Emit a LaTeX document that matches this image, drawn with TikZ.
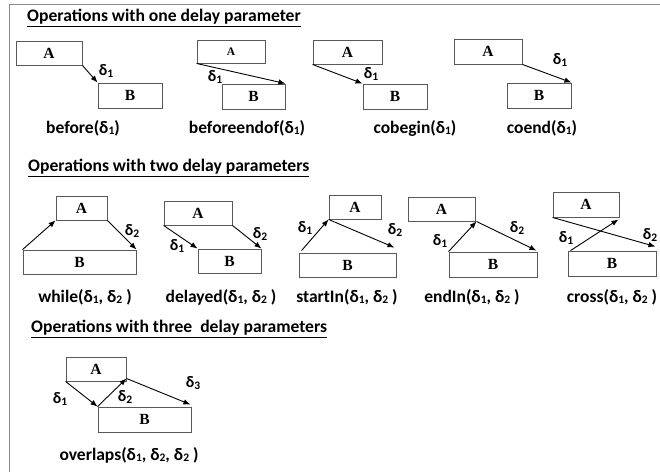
\documentclass[tikz,border=0pt]{standalone}
\usepackage{fontspec}
\setmainfont{Carlito}
\newfontfamily\boxfont{Liberation Serif}
\usetikzlibrary{arrows.meta}
\newcommand{\dl}[1]{\textbf{δ\raisebox{-1.3pt}{\fontsize{11.5}{11.5}\selectfont #1}}}
\tikzset{
  box/.style={draw=black!65, line width=0.9pt, rectangle, inner sep=0pt,
    font=\boxfont\bfseries\fontsize{15.5}{15.5}\selectfont},
  arr/.style={line width=0.9pt, -{Latex[length=7pt,width=5.5pt]}},
  dlab/.style={font=\bfseries\fontsize{16}{16}\selectfont, inner sep=0pt},
  capt/.style={font=\bfseries\fontsize{17.5}{17.5}\selectfont, inner sep=0pt},
  ttl/.style={font=\bfseries\fontsize{17.6}{17.6}\selectfont, inner sep=0pt, anchor=west},
  frm/.style={draw=black!45, line width=1.2pt}
}
\begin{document}
\begin{tikzpicture}[x=1pt,y=-1pt]
\useasboundingbox (0,0) rectangle (660,472);
% frame
\coordinate (ftl) at (9.5,4.5);
\coordinate (ftr) at (660,4.5);
\coordinate (fbl) at (9.5,472);
\draw[frm] (ftr) -- (ftl) -- (fbl);

% titles
\node[ttl] (t1) at (27,18) {\underline{Operations with one delay parameter}};
\node[ttl] (t2) at (28,168) {\underline{Operations with two delay parameters}};
\node[ttl] (t3) at (31,329) {\underline{Operations with three\ \ delay parameters}};

% before
\node[box, minimum width=66pt, minimum height=24pt] (a1) at (49,53) {A};
\node[box, minimum width=64pt, minimum height=25pt] (b1) at (130,95.5) {B};
\draw[arr] (a1.south east) -- (b1.north west);
\node[dlab] (d11) at (106,71) {\dl{1}};
\node[capt] (c1) at (83,128) {before(\dl{1})};

% beforeendof
\node[box, minimum width=68pt, minimum height=23pt, font=\boxfont\bfseries\fontsize{11.5}{11.5}\selectfont] (a2) at (231,51.5) {A};
\node[box, minimum width=63pt, minimum height=25pt] (b2) at (253.5,96.5) {B};
\draw[arr] (a2.south west) -- (b2.north east);
\node[dlab] (d21) at (215,77) {\dl{1}};
\node[capt] (c2) at (247,128) {beforeendof(\dl{1})};

% cobegin
\node[box, minimum width=69pt, minimum height=24pt] (a3) at (347.5,52) {A};
\node[box, minimum width=64pt, minimum height=25pt] (b3) at (395,96.5) {B};
\draw[arr] (a3.south west) -- (b3.north west);
\node[dlab] (d31) at (371,74) {\dl{1}};
\node[capt] (c3) at (415,128) {cobegin(\dl{1})};

% coend
\node[box, minimum width=68pt, minimum height=25pt] (a4) at (488,51.5) {A};
\node[box, minimum width=64pt, minimum height=25pt] (b4) at (539,95.5) {B};
\draw[arr] (a4.south east) -- (b4.north east);
\node[dlab] (d41) at (560,60) {\dl{1}};
\node[capt] (c4) at (542,128) {coend(\dl{1})};

% while
\node[box, minimum width=51pt, minimum height=24pt] (a5) at (81.5,208) {A};
\node[box, minimum width=113pt, minimum height=24pt] (b5) at (79.5,262) {B};
\draw[arr] (b5.north west) -- (a5.south west);
\draw[arr] (a5.south east) -- (b5.north east);
\node[dlab] (d52) at (132,231) {\dl{2}};
\node[capt] (c5) at (85,297) {while(\dl{1}, \dl{2} )};

% delayed
\node[box, minimum width=68pt, minimum height=24pt] (a6) at (198,213) {A};
\node[box, minimum width=63pt, minimum height=24pt] (b6) at (229.5,261) {B};
\draw[arr] (a6.south west) -- (b6.north west);
\draw[arr] (a6.south east) -- (b6.north east);
\node[dlab] (d61) at (177,246) {\dl{1}};
\node[dlab] (d62) at (260,234) {\dl{2}};
\node[capt] (c6) at (221,297) {delayed(\dl{1}, \dl{2} )};

% startIn
\node[box, minimum width=52pt, minimum height=24pt] (a7) at (355,207) {A};
\node[box, minimum width=97pt, minimum height=24pt] (b7) at (347.5,265) {B};
\draw[arr] ([xshift=3pt,yshift=2pt]b7.north west) -- (a7.south west);
\draw[arr] (a7.south west) -- ([xshift=-2pt,yshift=5pt]b7.north east);
\node[dlab] (d71) at (305,228) {\dl{1}};
\node[dlab] (d72) at (395,230) {\dl{2}};
\node[capt] (c7) at (347,297) {startIn(\dl{1}, \dl{2} )};

% endIn
\node[box, minimum width=67pt, minimum height=24pt] (a8) at (441.5,209) {A};
\node[box, minimum width=88pt, minimum height=25pt] (b8) at (493,264.5) {B};
\draw[arr] (b8.north west) -- ([xshift=1pt]a8.south east);
\draw[arr] ([xshift=1pt]a8.south east) -- ([xshift=-1pt,yshift=1pt]b8.north east);
\node[dlab] (d81) at (440,241) {\dl{1}};
\node[dlab] (d82) at (517,228) {\dl{2}};
\node[capt] (c8) at (472,297) {endIn(\dl{1}, \dl{2} )};

% cross
\node[box, minimum width=66pt, minimum height=25pt] (a9) at (586,204.5) {A};
\node[box, minimum width=88pt, minimum height=25pt] (b9) at (612,263.5) {B};
\draw[arr] ([xshift=3pt]b9.north west) -- ([xshift=-1pt,yshift=-2pt]a9.south east);
\draw[arr] (a9.south west) -- ([xshift=-1pt,yshift=4pt]b9.north east);
\node[dlab] (d91) at (566,238) {\dl{1}};
\node[dlab] (d92) at (650,235) {\dl{2}};
\node[capt] (c9) at (612,297) {cross(\dl{1}, \dl{2} )};

% overlaps
\node[box, minimum width=60pt, minimum height=24pt] (a10) at (96,369) {A};
\node[box, minimum width=93pt, minimum height=25pt] (b10) at (144.5,419.5) {B};
\draw[arr] (a10.south west) -- (b10.north west);
\draw[arr] (b10.north west) -- ([yshift=3pt]a10.south east);
\draw[arr] ([yshift=3pt]a10.south east) -- ([xshift=-1pt,yshift=2pt]b10.north east);
\node[dlab] (d101) at (60,399) {\dl{1}};
\node[dlab] (d102) at (125,397) {\dl{2}};
\node[dlab] (d103) at (193,383) {\dl{3}};
\node[capt] (c10) at (129,455) {overlaps(\dl{1}, \dl{2}, \dl{2} )};
\end{tikzpicture}
\end{document}
